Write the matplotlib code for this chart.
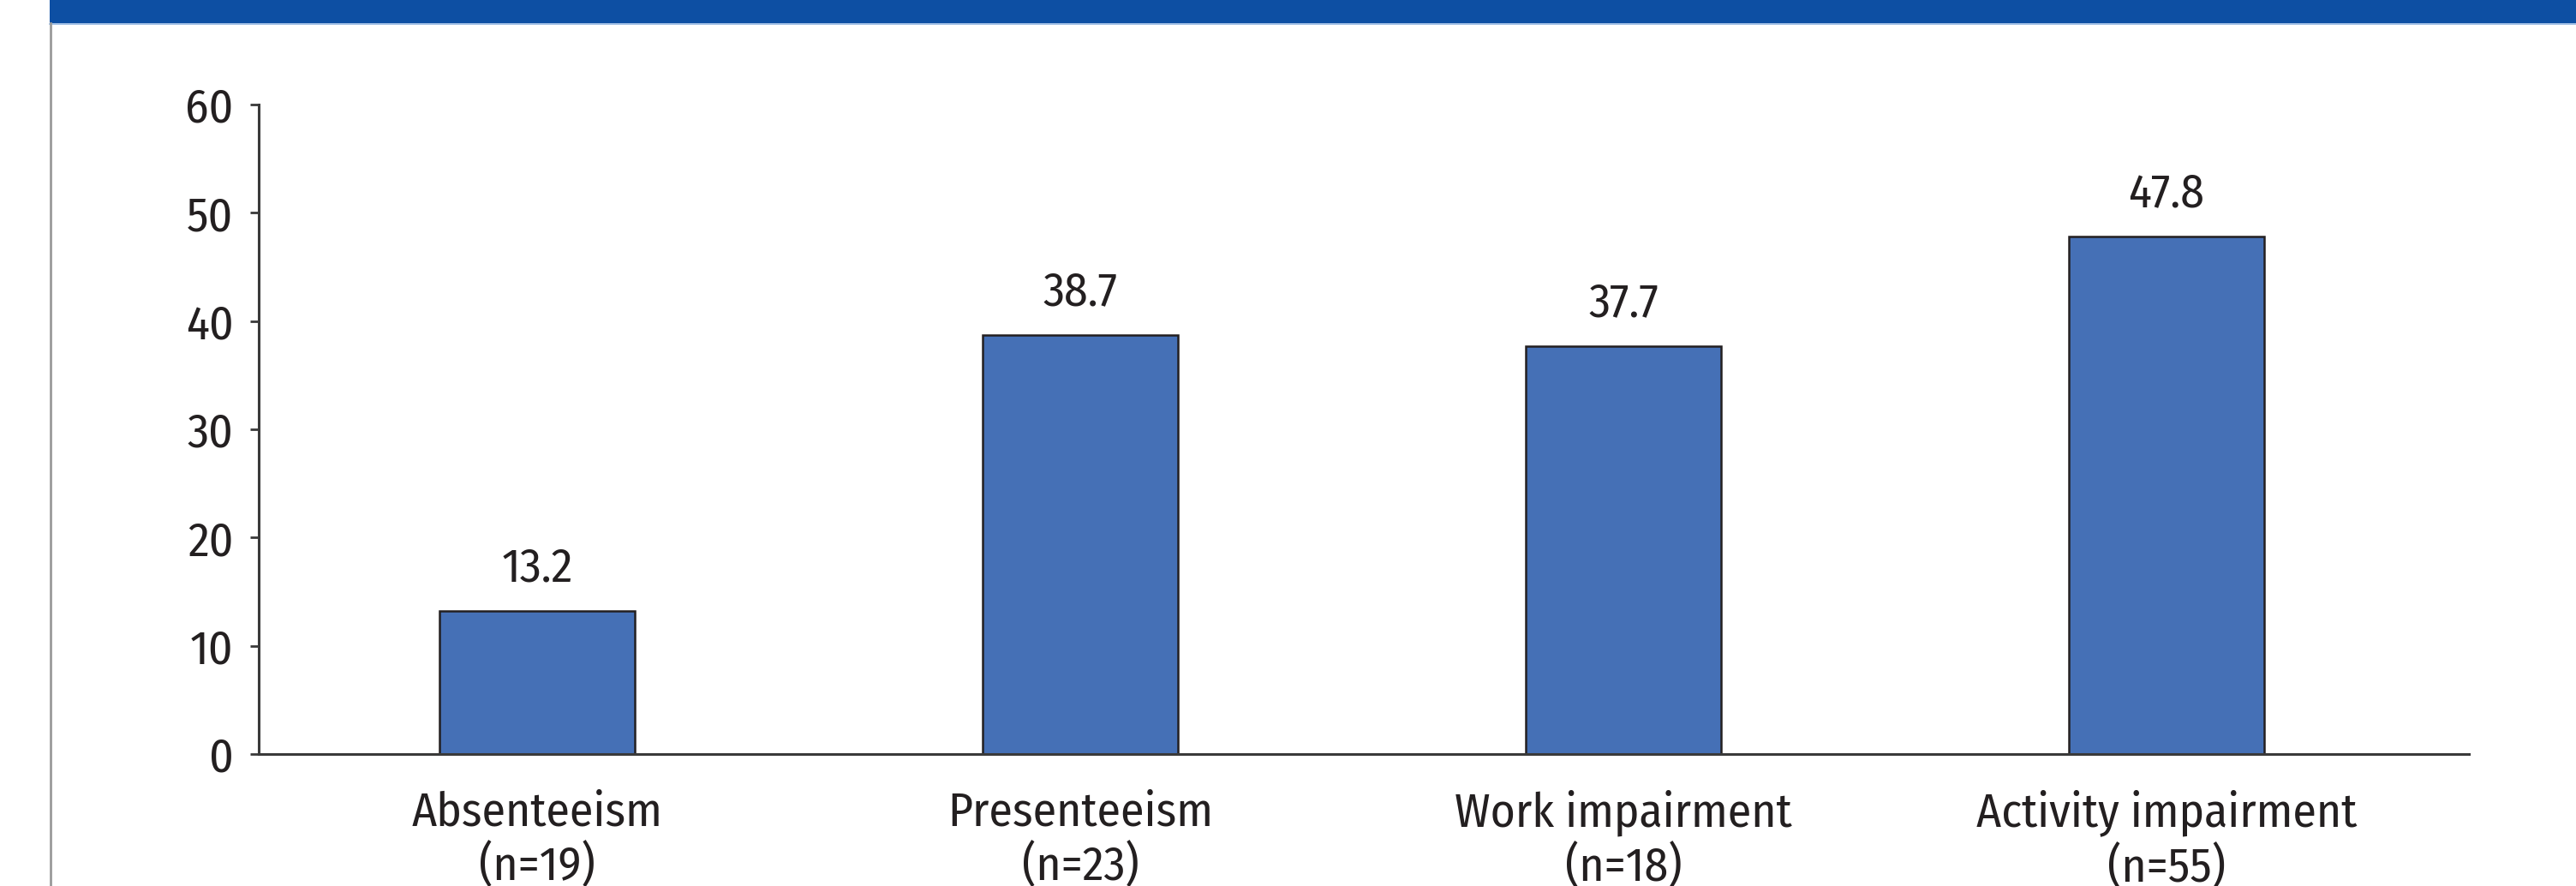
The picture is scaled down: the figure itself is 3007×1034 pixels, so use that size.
import matplotlib
matplotlib.use("Agg")
import matplotlib.pyplot as plt
from matplotlib.patches import Rectangle
from matplotlib.lines import Line2D

categories = ["Absenteeism\n(n=19)", "Presenteeism\n(n=23)", "Work impairment\n(n=18)", "Activity impairment\n(n=55)"]
values = [13.2, 38.7, 37.7, 47.8]
value_labels = ["13.2", "38.7", "37.7", "47.8"]
yticks = [0, 10, 20, 30, 40, 50, 60]

plt.rcParams['font.family'] = ['Fira Sans Condensed', 'Roboto Condensed', 'Liberation Sans', 'DejaVu Sans']

W, H = 3007, 1034
fig = plt.figure(figsize=(W / 100, H / 100), dpi=100)
fig.patch.set_facecolor("white")

# header band and left frame line
fig.patches.append(Rectangle((58 / W, 1 - 27 / H), 1 - 58 / W, 27 / H, transform=fig.transFigure,
                             facecolor="#0D4FA3", edgecolor="none", zorder=0))
fig.lines.append(Line2D([58 / W, 1], [1 - 28 / H, 1 - 28 / H], transform=fig.transFigure,
                        color="#8FB3E0", linewidth=1.2))
fig.lines.append(Line2D([59 / W, 59 / W], [0, 1 - 27 / H], transform=fig.transFigure,
                        color="#9A9A9A", linewidth=2.0))

ax = fig.add_axes([302 / W, 154 / H, (2882 - 302) / W, (880 - 122) / H])
x = list(range(len(categories)))
bars = ax.bar(x, values, width=0.36, color="#4570B6", edgecolor="#231F20", linewidth=1.8, zorder=2)

for xi, v, lab in zip(x, values, value_labels):
    ax.annotate(lab, (xi, v), xytext=(0, 25), textcoords="offset points",
                ha="center", va="baseline", fontsize=40, color="#231F20")

ax.set_xlim(-0.513, 3.557)
ax.set_ylim(0, 60)
ax.set_yticks(yticks)
ax.set_yticklabels([str(t) for t in yticks])
ax.set_xticks(x)
ax.set_xticklabels(categories, linespacing=1.2)

for s in ["top", "right"]:
    ax.spines[s].set_visible(False)
for s in ["left", "bottom"]:
    ax.spines[s].set_color("#3A3A3A")
    ax.spines[s].set_linewidth(2.2)

ax.tick_params(axis="y", length=7.2, width=2.0, color="#3A3A3A", pad=14, labelsize=40, labelcolor="#231F20")
ax.tick_params(axis="x", length=0, pad=30, labelsize=40, labelcolor="#231F20")

fig.savefig("out.png", dpi=100)
